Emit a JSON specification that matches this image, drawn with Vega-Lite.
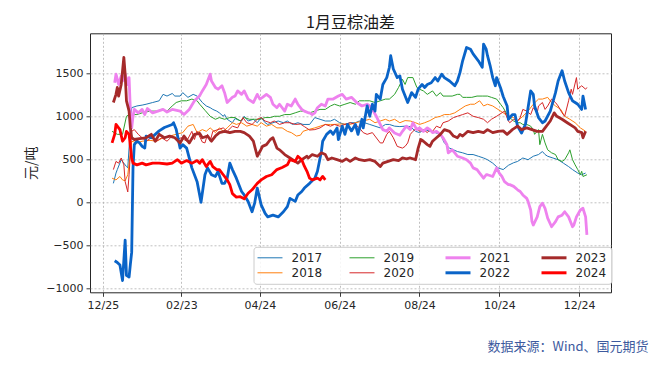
{
  "$schema": "https://vega.github.io/schema/vega-lite/v6.json",
  "width": 521,
  "height": 259,
  "autosize": {"type": "none"},
  "padding": {"left": 90, "top": 33.3, "right": 42, "bottom": 76.7},
  "background": "white",
  "config": {"view": {"stroke": "#262626", "strokeWidth": 1}},
  "title": {"text": "1月豆棕油差", "font": "Noto Sans CJK SC", "fontSize": 16, "fontWeight": "normal", "color": "#1a1a1a", "anchor": "middle", "frame": "group", "baseline": "alphabetic", "offset": 5, "dy": 16},
  "data": {
    "format": {"parse": {"t": "date:'%Y-%j'"}},
    "values": [
      {"s":"2017","t":"2023-002","v":220},{"s":"2017","t":"2023-004","v":340},{"s":"2017","t":"2023-005","v":380},{"s":"2017","t":"2023-008","v":495},{"s":"2017","t":"2023-009","v":475},{"s":"2017","t":"2023-012","v":415},{"s":"2017","t":"2023-013","v":400},{"s":"2017","t":"2023-016","v":1100},{"s":"2017","t":"2023-020","v":1120},{"s":"2017","t":"2023-024","v":1130},{"s":"2017","t":"2023-027","v":1140},{"s":"2017","t":"2023-032","v":1160},{"s":"2017","t":"2023-037","v":1180},{"s":"2017","t":"2023-040","v":1255},{"s":"2017","t":"2023-043","v":1235},{"s":"2017","t":"2023-047","v":1265},{"s":"2017","t":"2023-049","v":1235},{"s":"2017","t":"2023-053","v":1235},{"s":"2017","t":"2023-055","v":1275},{"s":"2017","t":"2023-059","v":1220},{"s":"2017","t":"2023-063","v":1255},{"s":"2017","t":"2023-066","v":1235},{"s":"2017","t":"2023-070","v":1160},{"s":"2017","t":"2023-073","v":1120},{"s":"2017","t":"2023-076","v":1100},{"s":"2017","t":"2023-078","v":1080},{"s":"2017","t":"2023-081","v":1060},{"s":"2017","t":"2023-083","v":1040},{"s":"2017","t":"2023-086","v":1000},{"s":"2017","t":"2023-087","v":1020},{"s":"2017","t":"2023-089","v":965},{"s":"2017","t":"2023-093","v":925},{"s":"2017","t":"2023-095","v":975},{"s":"2017","t":"2023-096","v":965},{"s":"2017","t":"2023-100","v":945},{"s":"2017","t":"2023-102","v":1000},{"s":"2017","t":"2023-105","v":945},{"s":"2017","t":"2023-109","v":965},{"s":"2017","t":"2023-112","v":925},{"s":"2017","t":"2023-115","v":985},{"s":"2017","t":"2023-118","v":925},{"s":"2017","t":"2023-120","v":905},{"s":"2017","t":"2023-124","v":925},{"s":"2017","t":"2023-128","v":945},{"s":"2017","t":"2023-132","v":925},{"s":"2017","t":"2023-135","v":945},{"s":"2017","t":"2023-139","v":905},{"s":"2017","t":"2023-143","v":925},{"s":"2017","t":"2023-147","v":905},{"s":"2017","t":"2023-152","v":905},{"s":"2017","t":"2023-156","v":985},{"s":"2017","t":"2023-160","v":965},{"s":"2017","t":"2023-164","v":945},{"s":"2017","t":"2023-168","v":945},{"s":"2017","t":"2023-171","v":965},{"s":"2017","t":"2023-175","v":925},{"s":"2017","t":"2023-179","v":905},{"s":"2017","t":"2023-183","v":925},{"s":"2017","t":"2023-187","v":925},{"s":"2017","t":"2023-190","v":945},{"s":"2017","t":"2023-194","v":925},{"s":"2017","t":"2023-198","v":905},{"s":"2017","t":"2023-202","v":885},{"s":"2017","t":"2023-206","v":865},{"s":"2017","t":"2023-210","v":905},{"s":"2017","t":"2023-213","v":905},{"s":"2017","t":"2023-217","v":885},{"s":"2017","t":"2023-221","v":880},{"s":"2017","t":"2023-225","v":885},{"s":"2017","t":"2023-229","v":880},{"s":"2017","t":"2023-233","v":825},{"s":"2017","t":"2023-236","v":810},{"s":"2017","t":"2023-240","v":845},{"s":"2017","t":"2023-244","v":825},{"s":"2017","t":"2023-248","v":810},{"s":"2017","t":"2023-252","v":790},{"s":"2017","t":"2023-255","v":690},{"s":"2017","t":"2023-259","v":630},{"s":"2017","t":"2023-262","v":610},{"s":"2017","t":"2023-265","v":590},{"s":"2017","t":"2023-269","v":575},{"s":"2017","t":"2023-273","v":555},{"s":"2017","t":"2023-277","v":555},{"s":"2017","t":"2023-281","v":535},{"s":"2017","t":"2023-285","v":515},{"s":"2017","t":"2023-288","v":495},{"s":"2017","t":"2023-292","v":455},{"s":"2017","t":"2023-296","v":400},{"s":"2017","t":"2023-300","v":380},{"s":"2017","t":"2023-304","v":430},{"s":"2017","t":"2023-308","v":460},{"s":"2017","t":"2023-311","v":475},{"s":"2017","t":"2023-315","v":515},{"s":"2017","t":"2023-319","v":495},{"s":"2017","t":"2023-323","v":535},{"s":"2017","t":"2023-327","v":555},{"s":"2017","t":"2023-330","v":590},{"s":"2017","t":"2023-332","v":555},{"s":"2017","t":"2023-334","v":535},{"s":"2017","t":"2023-338","v":515},{"s":"2017","t":"2023-342","v":495},{"s":"2017","t":"2023-346","v":455},{"s":"2017","t":"2023-350","v":415},{"s":"2017","t":"2023-353","v":380},{"s":"2017","t":"2023-357","v":340},{"s":"2017","t":"2023-360","v":320},{"s":"2017","t":"2023-363","v":340},

      {"s":"2018","t":"2023-001","v":280},{"s":"2018","t":"2023-004","v":260},{"s":"2018","t":"2023-007","v":300},{"s":"2018","t":"2023-009","v":260},{"s":"2018","t":"2023-011","v":250},{"s":"2018","t":"2023-013","v":320},{"s":"2018","t":"2023-016","v":710},{"s":"2018","t":"2023-020","v":690},{"s":"2018","t":"2023-024","v":710},{"s":"2018","t":"2023-030","v":720},{"s":"2018","t":"2023-035","v":710},{"s":"2018","t":"2023-040","v":750},{"s":"2018","t":"2023-045","v":770},{"s":"2018","t":"2023-050","v":790},{"s":"2018","t":"2023-055","v":810},{"s":"2018","t":"2023-059","v":885},{"s":"2018","t":"2023-063","v":905},{"s":"2018","t":"2023-066","v":810},{"s":"2018","t":"2023-070","v":845},{"s":"2018","t":"2023-073","v":825},{"s":"2018","t":"2023-076","v":865},{"s":"2018","t":"2023-080","v":810},{"s":"2018","t":"2023-083","v":865},{"s":"2018","t":"2023-086","v":825},{"s":"2018","t":"2023-089","v":865},{"s":"2018","t":"2023-093","v":925},{"s":"2018","t":"2023-096","v":905},{"s":"2018","t":"2023-100","v":925},{"s":"2018","t":"2023-104","v":885},{"s":"2018","t":"2023-108","v":905},{"s":"2018","t":"2023-112","v":885},{"s":"2018","t":"2023-115","v":925},{"s":"2018","t":"2023-119","v":885},{"s":"2018","t":"2023-123","v":905},{"s":"2018","t":"2023-127","v":865},{"s":"2018","t":"2023-131","v":865},{"s":"2018","t":"2023-135","v":825},{"s":"2018","t":"2023-138","v":810},{"s":"2018","t":"2023-142","v":770},{"s":"2018","t":"2023-145","v":780},{"s":"2018","t":"2023-147","v":825},{"s":"2018","t":"2023-151","v":845},{"s":"2018","t":"2023-156","v":865},{"s":"2018","t":"2023-160","v":885},{"s":"2018","t":"2023-164","v":905},{"s":"2018","t":"2023-168","v":905},{"s":"2018","t":"2023-171","v":905},{"s":"2018","t":"2023-175","v":910},{"s":"2018","t":"2023-179","v":910},{"s":"2018","t":"2023-183","v":905},{"s":"2018","t":"2023-187","v":925},{"s":"2018","t":"2023-190","v":935},{"s":"2018","t":"2023-194","v":950},{"s":"2018","t":"2023-198","v":965},{"s":"2018","t":"2023-202","v":925},{"s":"2018","t":"2023-206","v":945},{"s":"2018","t":"2023-210","v":965},{"s":"2018","t":"2023-213","v":945},{"s":"2018","t":"2023-217","v":965},{"s":"2018","t":"2023-221","v":925},{"s":"2018","t":"2023-225","v":950},{"s":"2018","t":"2023-229","v":945},{"s":"2018","t":"2023-233","v":925},{"s":"2018","t":"2023-236","v":905},{"s":"2018","t":"2023-240","v":925},{"s":"2018","t":"2023-244","v":950},{"s":"2018","t":"2023-248","v":985},{"s":"2018","t":"2023-252","v":1000},{"s":"2018","t":"2023-255","v":1020},{"s":"2018","t":"2023-259","v":1020},{"s":"2018","t":"2023-263","v":1040},{"s":"2018","t":"2023-267","v":1080},{"s":"2018","t":"2023-271","v":1120},{"s":"2018","t":"2023-275","v":1140},{"s":"2018","t":"2023-278","v":1140},{"s":"2018","t":"2023-282","v":1180},{"s":"2018","t":"2023-285","v":1120},{"s":"2018","t":"2023-288","v":1140},{"s":"2018","t":"2023-292","v":1120},{"s":"2018","t":"2023-296","v":1080},{"s":"2018","t":"2023-300","v":1040},{"s":"2018","t":"2023-304","v":1000},{"s":"2018","t":"2023-308","v":985},{"s":"2018","t":"2023-311","v":945},{"s":"2018","t":"2023-315","v":1000},{"s":"2018","t":"2023-319","v":1060},{"s":"2018","t":"2023-323","v":1140},{"s":"2018","t":"2023-327","v":1200},{"s":"2018","t":"2023-330","v":1200},{"s":"2018","t":"2023-334","v":1220},{"s":"2018","t":"2023-337","v":1160},{"s":"2018","t":"2023-340","v":1120},{"s":"2018","t":"2023-344","v":1080},{"s":"2018","t":"2023-347","v":1000},{"s":"2018","t":"2023-351","v":965},{"s":"2018","t":"2023-355","v":925},{"s":"2018","t":"2023-359","v":865},{"s":"2018","t":"2023-363","v":825},

      {"s":"2019","t":"2023-001","v":825},{"s":"2019","t":"2023-005","v":790},{"s":"2019","t":"2023-009","v":790},{"s":"2019","t":"2023-012","v":1000},{"s":"2019","t":"2023-014","v":1020},{"s":"2019","t":"2023-020","v":1020},{"s":"2019","t":"2023-024","v":1040},{"s":"2019","t":"2023-030","v":1060},{"s":"2019","t":"2023-035","v":1060},{"s":"2019","t":"2023-039","v":1080},{"s":"2019","t":"2023-043","v":1060},{"s":"2019","t":"2023-047","v":1120},{"s":"2019","t":"2023-050","v":1160},{"s":"2019","t":"2023-054","v":1180},{"s":"2019","t":"2023-058","v":1180},{"s":"2019","t":"2023-062","v":1200},{"s":"2019","t":"2023-066","v":1180},{"s":"2019","t":"2023-068","v":1140},{"s":"2019","t":"2023-072","v":1070},{"s":"2019","t":"2023-076","v":1000},{"s":"2019","t":"2023-080","v":965},{"s":"2019","t":"2023-083","v":985},{"s":"2019","t":"2023-087","v":965},{"s":"2019","t":"2023-091","v":985},{"s":"2019","t":"2023-095","v":985},{"s":"2019","t":"2023-099","v":945},{"s":"2019","t":"2023-102","v":985},{"s":"2019","t":"2023-106","v":965},{"s":"2019","t":"2023-110","v":965},{"s":"2019","t":"2023-114","v":965},{"s":"2019","t":"2023-118","v":985},{"s":"2019","t":"2023-122","v":985},{"s":"2019","t":"2023-125","v":1000},{"s":"2019","t":"2023-129","v":1000},{"s":"2019","t":"2023-133","v":1020},{"s":"2019","t":"2023-137","v":1020},{"s":"2019","t":"2023-141","v":1040},{"s":"2019","t":"2023-145","v":1060},{"s":"2019","t":"2023-148","v":1060},{"s":"2019","t":"2023-152","v":1040},{"s":"2019","t":"2023-156","v":1060},{"s":"2019","t":"2023-160","v":1080},{"s":"2019","t":"2023-164","v":1080},{"s":"2019","t":"2023-168","v":1120},{"s":"2019","t":"2023-171","v":1140},{"s":"2019","t":"2023-175","v":1120},{"s":"2019","t":"2023-179","v":1140},{"s":"2019","t":"2023-183","v":1160},{"s":"2019","t":"2023-187","v":1140},{"s":"2019","t":"2023-190","v":1180},{"s":"2019","t":"2023-194","v":1180},{"s":"2019","t":"2023-198","v":1180},{"s":"2019","t":"2023-202","v":1160},{"s":"2019","t":"2023-206","v":1180},{"s":"2019","t":"2023-210","v":1200},{"s":"2019","t":"2023-213","v":1200},{"s":"2019","t":"2023-217","v":1255},{"s":"2019","t":"2023-220","v":1335},{"s":"2019","t":"2023-223","v":1430},{"s":"2019","t":"2023-225","v":1370},{"s":"2019","t":"2023-227","v":1450},{"s":"2019","t":"2023-231","v":1450},{"s":"2019","t":"2023-234","v":1335},{"s":"2019","t":"2023-236","v":1315},{"s":"2019","t":"2023-239","v":1295},{"s":"2019","t":"2023-242","v":1255},{"s":"2019","t":"2023-244","v":1275},{"s":"2019","t":"2023-246","v":1295},{"s":"2019","t":"2023-249","v":1235},{"s":"2019","t":"2023-252","v":1275},{"s":"2019","t":"2023-254","v":1235},{"s":"2019","t":"2023-257","v":1235},{"s":"2019","t":"2023-261","v":1235},{"s":"2019","t":"2023-265","v":1255},{"s":"2019","t":"2023-267","v":1255},{"s":"2019","t":"2023-269","v":1220},{"s":"2019","t":"2023-272","v":1220},{"s":"2019","t":"2023-276","v":1220},{"s":"2019","t":"2023-280","v":1235},{"s":"2019","t":"2023-284","v":1235},{"s":"2019","t":"2023-288","v":1235},{"s":"2019","t":"2023-291","v":1220},{"s":"2019","t":"2023-295","v":1200},{"s":"2019","t":"2023-298","v":1140},{"s":"2019","t":"2023-300","v":1100},{"s":"2019","t":"2023-303","v":1020},{"s":"2019","t":"2023-305","v":985},{"s":"2019","t":"2023-308","v":945},{"s":"2019","t":"2023-311","v":925},{"s":"2019","t":"2023-313","v":925},{"s":"2019","t":"2023-315","v":905},{"s":"2019","t":"2023-318","v":905},{"s":"2019","t":"2023-321","v":885},{"s":"2019","t":"2023-323","v":845},{"s":"2019","t":"2023-324","v":790},{"s":"2019","t":"2023-327","v":845},{"s":"2019","t":"2023-328","v":670},{"s":"2019","t":"2023-330","v":790},{"s":"2019","t":"2023-332","v":690},{"s":"2019","t":"2023-334","v":610},{"s":"2019","t":"2023-337","v":575},{"s":"2019","t":"2023-340","v":555},{"s":"2019","t":"2023-342","v":495},{"s":"2019","t":"2023-345","v":475},{"s":"2019","t":"2023-347","v":495},{"s":"2019","t":"2023-350","v":575},{"s":"2019","t":"2023-351","v":610},{"s":"2019","t":"2023-353","v":495},{"s":"2019","t":"2023-355","v":435},{"s":"2019","t":"2023-357","v":380},{"s":"2019","t":"2023-359","v":320},{"s":"2019","t":"2023-360","v":360},{"s":"2019","t":"2023-361","v":300},{"s":"2019","t":"2023-364","v":320},

      {"s":"2020","t":"2023-002","v":380},{"s":"2020","t":"2023-004","v":475},{"s":"2020","t":"2023-006","v":455},{"s":"2020","t":"2023-008","v":515},{"s":"2020","t":"2023-010","v":435},{"s":"2020","t":"2023-011","v":240},{"s":"2020","t":"2023-013","v":120},{"s":"2020","t":"2023-014","v":320},{"s":"2020","t":"2023-016","v":825},{"s":"2020","t":"2023-018","v":845},{"s":"2020","t":"2023-021","v":790},{"s":"2020","t":"2023-024","v":750},{"s":"2020","t":"2023-027","v":710},{"s":"2020","t":"2023-031","v":750},{"s":"2020","t":"2023-035","v":710},{"s":"2020","t":"2023-039","v":750},{"s":"2020","t":"2023-043","v":710},{"s":"2020","t":"2023-047","v":770},{"s":"2020","t":"2023-050","v":730},{"s":"2020","t":"2023-054","v":750},{"s":"2020","t":"2023-058","v":710},{"s":"2020","t":"2023-062","v":825},{"s":"2020","t":"2023-064","v":730},{"s":"2020","t":"2023-066","v":825},{"s":"2020","t":"2023-070","v":700},{"s":"2020","t":"2023-072","v":690},{"s":"2020","t":"2023-074","v":790},{"s":"2020","t":"2023-076","v":710},{"s":"2020","t":"2023-078","v":825},{"s":"2020","t":"2023-082","v":845},{"s":"2020","t":"2023-086","v":865},{"s":"2020","t":"2023-089","v":825},{"s":"2020","t":"2023-093","v":885},{"s":"2020","t":"2023-097","v":865},{"s":"2020","t":"2023-101","v":985},{"s":"2020","t":"2023-104","v":925},{"s":"2020","t":"2023-108","v":905},{"s":"2020","t":"2023-112","v":965},{"s":"2020","t":"2023-115","v":985},{"s":"2020","t":"2023-118","v":945},{"s":"2020","t":"2023-122","v":925},{"s":"2020","t":"2023-125","v":945},{"s":"2020","t":"2023-129","v":905},{"s":"2020","t":"2023-133","v":925},{"s":"2020","t":"2023-137","v":925},{"s":"2020","t":"2023-141","v":905},{"s":"2020","t":"2023-145","v":910},{"s":"2020","t":"2023-148","v":880},{"s":"2020","t":"2023-152","v":840},{"s":"2020","t":"2023-156","v":845},{"s":"2020","t":"2023-160","v":865},{"s":"2020","t":"2023-164","v":905},{"s":"2020","t":"2023-168","v":885},{"s":"2020","t":"2023-171","v":905},{"s":"2020","t":"2023-175","v":885},{"s":"2020","t":"2023-179","v":905},{"s":"2020","t":"2023-183","v":925},{"s":"2020","t":"2023-187","v":905},{"s":"2020","t":"2023-190","v":865},{"s":"2020","t":"2023-193","v":810},{"s":"2020","t":"2023-196","v":790},{"s":"2020","t":"2023-200","v":810},{"s":"2020","t":"2023-202","v":770},{"s":"2020","t":"2023-206","v":690},{"s":"2020","t":"2023-208","v":690},{"s":"2020","t":"2023-211","v":790},{"s":"2020","t":"2023-213","v":825},{"s":"2020","t":"2023-216","v":750},{"s":"2020","t":"2023-219","v":650},{"s":"2020","t":"2023-221","v":640},{"s":"2020","t":"2023-223","v":630},{"s":"2020","t":"2023-225","v":650},{"s":"2020","t":"2023-227","v":690},{"s":"2020","t":"2023-229","v":790},{"s":"2020","t":"2023-231","v":825},{"s":"2020","t":"2023-234","v":865},{"s":"2020","t":"2023-236","v":825},{"s":"2020","t":"2023-239","v":845},{"s":"2020","t":"2023-242","v":810},{"s":"2020","t":"2023-244","v":845},{"s":"2020","t":"2023-246","v":825},{"s":"2020","t":"2023-249","v":885},{"s":"2020","t":"2023-252","v":865},{"s":"2020","t":"2023-254","v":925},{"s":"2020","t":"2023-258","v":945},{"s":"2020","t":"2023-262","v":985},{"s":"2020","t":"2023-265","v":1000},{"s":"2020","t":"2023-269","v":1020},{"s":"2020","t":"2023-273","v":1040},{"s":"2020","t":"2023-277","v":1000},{"s":"2020","t":"2023-281","v":985},{"s":"2020","t":"2023-285","v":965},{"s":"2020","t":"2023-288","v":925},{"s":"2020","t":"2023-291","v":965},{"s":"2020","t":"2023-295","v":1000},{"s":"2020","t":"2023-299","v":1040},{"s":"2020","t":"2023-301","v":1060},{"s":"2020","t":"2023-304","v":945},{"s":"2020","t":"2023-305","v":925},{"s":"2020","t":"2023-308","v":965},{"s":"2020","t":"2023-311","v":945},{"s":"2020","t":"2023-313","v":985},{"s":"2020","t":"2023-315","v":1080},{"s":"2020","t":"2023-318","v":1060},{"s":"2020","t":"2023-321","v":1020},{"s":"2020","t":"2023-323","v":1100},{"s":"2020","t":"2023-326","v":1040},{"s":"2020","t":"2023-327","v":1120},{"s":"2020","t":"2023-330","v":1160},{"s":"2020","t":"2023-332","v":1080},{"s":"2020","t":"2023-334","v":1120},{"s":"2020","t":"2023-337","v":1200},{"s":"2020","t":"2023-340","v":1160},{"s":"2020","t":"2023-342","v":1120},{"s":"2020","t":"2023-345","v":1040},{"s":"2020","t":"2023-347","v":1000},{"s":"2020","t":"2023-350","v":1180},{"s":"2020","t":"2023-352","v":1315},{"s":"2020","t":"2023-353","v":1255},{"s":"2020","t":"2023-356","v":1450},{"s":"2020","t":"2023-357","v":1315},{"s":"2020","t":"2023-360","v":1355},{"s":"2020","t":"2023-363","v":1315},{"s":"2020","t":"2023-364","v":1335},

      {"s":"2021","t":"2023-003","v":1390},{"s":"2021","t":"2023-004","v":1490},{"s":"2021","t":"2023-006","v":1370},{"s":"2021","t":"2023-008","v":1470},{"s":"2021","t":"2023-009","v":1410},{"s":"2021","t":"2023-011","v":1490},{"s":"2021","t":"2023-013","v":1370},{"s":"2021","t":"2023-014","v":1450},{"s":"2021","t":"2023-015","v":1060},{"s":"2021","t":"2023-016","v":865},{"s":"2021","t":"2023-017","v":1000},{"s":"2021","t":"2023-018","v":1080},{"s":"2021","t":"2023-021","v":1040},{"s":"2021","t":"2023-024","v":1080},{"s":"2021","t":"2023-026","v":1020},{"s":"2021","t":"2023-028","v":1090},{"s":"2021","t":"2023-032","v":1040},{"s":"2021","t":"2023-036","v":1060},{"s":"2021","t":"2023-040","v":1080},{"s":"2021","t":"2023-043","v":1050},{"s":"2021","t":"2023-047","v":1080},{"s":"2021","t":"2023-053","v":1060},{"s":"2021","t":"2023-056","v":1020},{"s":"2021","t":"2023-060","v":1080},{"s":"2021","t":"2023-064","v":1180},{"s":"2021","t":"2023-068","v":1240},{"s":"2021","t":"2023-070","v":1295},{"s":"2021","t":"2023-073","v":1370},{"s":"2021","t":"2023-076","v":1490},{"s":"2021","t":"2023-077","v":1410},{"s":"2021","t":"2023-080","v":1335},{"s":"2021","t":"2023-082","v":1315},{"s":"2021","t":"2023-085","v":1355},{"s":"2021","t":"2023-087","v":1275},{"s":"2021","t":"2023-089","v":1160},{"s":"2021","t":"2023-093","v":1220},{"s":"2021","t":"2023-095","v":1235},{"s":"2021","t":"2023-097","v":1295},{"s":"2021","t":"2023-100","v":1255},{"s":"2021","t":"2023-102","v":1295},{"s":"2021","t":"2023-105","v":1200},{"s":"2021","t":"2023-109","v":1160},{"s":"2021","t":"2023-112","v":1255},{"s":"2021","t":"2023-114","v":1200},{"s":"2021","t":"2023-116","v":1220},{"s":"2021","t":"2023-119","v":1255},{"s":"2021","t":"2023-122","v":1220},{"s":"2021","t":"2023-124","v":1140},{"s":"2021","t":"2023-127","v":1100},{"s":"2021","t":"2023-129","v":1140},{"s":"2021","t":"2023-133","v":1060},{"s":"2021","t":"2023-135","v":1140},{"s":"2021","t":"2023-138","v":1120},{"s":"2021","t":"2023-141","v":1200},{"s":"2021","t":"2023-143","v":1140},{"s":"2021","t":"2023-146","v":1080},{"s":"2021","t":"2023-148","v":1060},{"s":"2021","t":"2023-151","v":1040},{"s":"2021","t":"2023-152","v":1040},{"s":"2021","t":"2023-154","v":1020},{"s":"2021","t":"2023-156","v":1040},{"s":"2021","t":"2023-158","v":1100},{"s":"2021","t":"2023-161","v":1140},{"s":"2021","t":"2023-164","v":1120},{"s":"2021","t":"2023-166","v":1200},{"s":"2021","t":"2023-170","v":1200},{"s":"2021","t":"2023-174","v":1235},{"s":"2021","t":"2023-177","v":1255},{"s":"2021","t":"2023-180","v":1200},{"s":"2021","t":"2023-184","v":1220},{"s":"2021","t":"2023-188","v":1160},{"s":"2021","t":"2023-192","v":1120},{"s":"2021","t":"2023-196","v":1140},{"s":"2021","t":"2023-198","v":1120},{"s":"2021","t":"2023-200","v":1080},{"s":"2021","t":"2023-203","v":1000},{"s":"2021","t":"2023-206","v":905},{"s":"2021","t":"2023-208","v":845},{"s":"2021","t":"2023-211","v":825},{"s":"2021","t":"2023-213","v":865},{"s":"2021","t":"2023-217","v":805},{"s":"2021","t":"2023-221","v":780},{"s":"2021","t":"2023-223","v":825},{"s":"2021","t":"2023-226","v":885},{"s":"2021","t":"2023-229","v":845},{"s":"2021","t":"2023-231","v":925},{"s":"2021","t":"2023-234","v":845},{"s":"2021","t":"2023-236","v":865},{"s":"2021","t":"2023-239","v":825},{"s":"2021","t":"2023-242","v":865},{"s":"2021","t":"2023-244","v":845},{"s":"2021","t":"2023-246","v":810},{"s":"2021","t":"2023-249","v":825},{"s":"2021","t":"2023-252","v":790},{"s":"2021","t":"2023-254","v":750},{"s":"2021","t":"2023-257","v":670},{"s":"2021","t":"2023-258","v":575},{"s":"2021","t":"2023-261","v":610},{"s":"2021","t":"2023-263","v":575},{"s":"2021","t":"2023-265","v":535},{"s":"2021","t":"2023-269","v":515},{"s":"2021","t":"2023-272","v":495},{"s":"2021","t":"2023-275","v":455},{"s":"2021","t":"2023-277","v":400},{"s":"2021","t":"2023-280","v":380},{"s":"2021","t":"2023-282","v":340},{"s":"2021","t":"2023-285","v":280},{"s":"2021","t":"2023-287","v":320},{"s":"2021","t":"2023-288","v":320},{"s":"2021","t":"2023-292","v":300},{"s":"2021","t":"2023-295","v":400},{"s":"2021","t":"2023-297","v":340},{"s":"2021","t":"2023-299","v":300},{"s":"2021","t":"2023-301","v":240},{"s":"2021","t":"2023-304","v":205},{"s":"2021","t":"2023-305","v":205},{"s":"2021","t":"2023-308","v":185},{"s":"2021","t":"2023-311","v":145},{"s":"2021","t":"2023-313","v":125},{"s":"2021","t":"2023-315","v":85},{"s":"2021","t":"2023-318","v":45},{"s":"2021","t":"2023-319","v":10},{"s":"2021","t":"2023-321","v":-90},{"s":"2021","t":"2023-322","v":-225},{"s":"2021","t":"2023-323","v":-265},{"s":"2021","t":"2023-326","v":-170},{"s":"2021","t":"2023-328","v":-50},{"s":"2021","t":"2023-330","v":-10},{"s":"2021","t":"2023-332","v":-70},{"s":"2021","t":"2023-334","v":-185},{"s":"2021","t":"2023-337","v":-285},{"s":"2021","t":"2023-340","v":-225},{"s":"2021","t":"2023-342","v":-170},{"s":"2021","t":"2023-345","v":-150},{"s":"2021","t":"2023-347","v":-110},{"s":"2021","t":"2023-350","v":-170},{"s":"2021","t":"2023-353","v":-285},{"s":"2021","t":"2023-354","v":-265},{"s":"2021","t":"2023-356","v":-170},{"s":"2021","t":"2023-359","v":-90},{"s":"2021","t":"2023-361","v":-70},{"s":"2021","t":"2023-363","v":-170},{"s":"2021","t":"2023-364","v":-380},

      {"s":"2022","t":"2023-003","v":-680},{"s":"2022","t":"2023-005","v":-700},{"s":"2022","t":"2023-007","v":-730},{"s":"2022","t":"2023-009","v":-910},{"s":"2022","t":"2023-011","v":-440},{"s":"2022","t":"2023-012","v":-850},{"s":"2022","t":"2023-014","v":-870},{"s":"2022","t":"2023-015","v":-720},{"s":"2022","t":"2023-016","v":-580},{"s":"2022","t":"2023-017","v":400},{"s":"2022","t":"2023-018","v":670},{"s":"2022","t":"2023-020","v":710},{"s":"2022","t":"2023-022","v":690},{"s":"2022","t":"2023-024","v":650},{"s":"2022","t":"2023-026","v":630},{"s":"2022","t":"2023-027","v":770},{"s":"2022","t":"2023-031","v":750},{"s":"2022","t":"2023-034","v":790},{"s":"2022","t":"2023-037","v":830},{"s":"2022","t":"2023-041","v":870},{"s":"2022","t":"2023-047","v":905},{"s":"2022","t":"2023-048","v":925},{"s":"2022","t":"2023-050","v":850},{"s":"2022","t":"2023-053","v":630},{"s":"2022","t":"2023-055","v":670},{"s":"2022","t":"2023-058","v":630},{"s":"2022","t":"2023-062","v":400},{"s":"2022","t":"2023-066","v":240},{"s":"2022","t":"2023-069","v":0},{"s":"2022","t":"2023-072","v":320},{"s":"2022","t":"2023-074","v":400},{"s":"2022","t":"2023-077","v":320},{"s":"2022","t":"2023-080","v":300},{"s":"2022","t":"2023-082","v":360},{"s":"2022","t":"2023-085","v":220},{"s":"2022","t":"2023-087","v":220},{"s":"2022","t":"2023-089","v":280},{"s":"2022","t":"2023-091","v":455},{"s":"2022","t":"2023-093","v":380},{"s":"2022","t":"2023-096","v":280},{"s":"2022","t":"2023-100","v":125},{"s":"2022","t":"2023-102","v":85},{"s":"2022","t":"2023-105","v":10},{"s":"2022","t":"2023-108","v":-110},{"s":"2022","t":"2023-110","v":-10},{"s":"2022","t":"2023-112","v":165},{"s":"2022","t":"2023-115","v":-30},{"s":"2022","t":"2023-118","v":-130},{"s":"2022","t":"2023-120","v":-170},{"s":"2022","t":"2023-124","v":-150},{"s":"2022","t":"2023-128","v":-170},{"s":"2022","t":"2023-132","v":-110},{"s":"2022","t":"2023-135","v":-50},{"s":"2022","t":"2023-137","v":45},{"s":"2022","t":"2023-141","v":10},{"s":"2022","t":"2023-143","v":85},{"s":"2022","t":"2023-146","v":125},{"s":"2022","t":"2023-148","v":165},{"s":"2022","t":"2023-152","v":220},{"s":"2022","t":"2023-156","v":280},{"s":"2022","t":"2023-158","v":360},{"s":"2022","t":"2023-161","v":590},{"s":"2022","t":"2023-162","v":710},{"s":"2022","t":"2023-165","v":790},{"s":"2022","t":"2023-168","v":830},{"s":"2022","t":"2023-170","v":790},{"s":"2022","t":"2023-173","v":865},{"s":"2022","t":"2023-174","v":730},{"s":"2022","t":"2023-177","v":885},{"s":"2022","t":"2023-179","v":790},{"s":"2022","t":"2023-181","v":905},{"s":"2022","t":"2023-184","v":830},{"s":"2022","t":"2023-187","v":905},{"s":"2022","t":"2023-189","v":790},{"s":"2022","t":"2023-192","v":965},{"s":"2022","t":"2023-193","v":865},{"s":"2022","t":"2023-196","v":1120},{"s":"2022","t":"2023-198","v":1000},{"s":"2022","t":"2023-200","v":1140},{"s":"2022","t":"2023-202","v":1060},{"s":"2022","t":"2023-203","v":1255},{"s":"2022","t":"2023-206","v":1200},{"s":"2022","t":"2023-208","v":1370},{"s":"2022","t":"2023-211","v":1450},{"s":"2022","t":"2023-213","v":1570},{"s":"2022","t":"2023-214","v":1705},{"s":"2022","t":"2023-216","v":1550},{"s":"2022","t":"2023-219","v":1450},{"s":"2022","t":"2023-221","v":1470},{"s":"2022","t":"2023-223","v":1315},{"s":"2022","t":"2023-227","v":1160},{"s":"2022","t":"2023-230","v":1275},{"s":"2022","t":"2023-233","v":1220},{"s":"2022","t":"2023-235","v":1315},{"s":"2022","t":"2023-238","v":1370},{"s":"2022","t":"2023-240","v":1335},{"s":"2022","t":"2023-242","v":1370},{"s":"2022","t":"2023-245","v":1390},{"s":"2022","t":"2023-248","v":1450},{"s":"2022","t":"2023-250","v":1410},{"s":"2022","t":"2023-253","v":1490},{"s":"2022","t":"2023-255","v":1450},{"s":"2022","t":"2023-259","v":1410},{"s":"2022","t":"2023-263","v":1355},{"s":"2022","t":"2023-265","v":1410},{"s":"2022","t":"2023-267","v":1510},{"s":"2022","t":"2023-269","v":1645},{"s":"2022","t":"2023-272","v":1800},{"s":"2022","t":"2023-275","v":1780},{"s":"2022","t":"2023-277","v":1725},{"s":"2022","t":"2023-281","v":1645},{"s":"2022","t":"2023-284","v":1570},{"s":"2022","t":"2023-285","v":1840},{"s":"2022","t":"2023-287","v":1780},{"s":"2022","t":"2023-288","v":1705},{"s":"2022","t":"2023-290","v":1590},{"s":"2022","t":"2023-292","v":1450},{"s":"2022","t":"2023-294","v":1355},{"s":"2022","t":"2023-295","v":1450},{"s":"2022","t":"2023-298","v":1330},{"s":"2022","t":"2023-300","v":1230},{"s":"2022","t":"2023-303","v":1120},{"s":"2022","t":"2023-304","v":965},{"s":"2022","t":"2023-307","v":1020},{"s":"2022","t":"2023-309","v":1020},{"s":"2022","t":"2023-311","v":885},{"s":"2022","t":"2023-314","v":805},{"s":"2022","t":"2023-317","v":905},{"s":"2022","t":"2023-319","v":1100},{"s":"2022","t":"2023-321","v":1295},{"s":"2022","t":"2023-323","v":1255},{"s":"2022","t":"2023-324","v":1120},{"s":"2022","t":"2023-327","v":985},{"s":"2022","t":"2023-330","v":925},{"s":"2022","t":"2023-332","v":945},{"s":"2022","t":"2023-336","v":1060},{"s":"2022","t":"2023-340","v":1275},{"s":"2022","t":"2023-342","v":1410},{"s":"2022","t":"2023-345","v":1530},{"s":"2022","t":"2023-347","v":1410},{"s":"2022","t":"2023-350","v":1275},{"s":"2022","t":"2023-353","v":1180},{"s":"2022","t":"2023-355","v":1160},{"s":"2022","t":"2023-357","v":1140},{"s":"2022","t":"2023-360","v":1080},{"s":"2022","t":"2023-361","v":1235},{"s":"2022","t":"2023-363","v":1080},

      {"s":"2023","t":"2023-002","v":1160},{"s":"2023","t":"2023-004","v":1255},{"s":"2023","t":"2023-005","v":1335},{"s":"2023","t":"2023-006","v":1235},{"s":"2023","t":"2023-008","v":1370},{"s":"2023","t":"2023-010","v":1685},{"s":"2023","t":"2023-011","v":1490},{"s":"2023","t":"2023-012","v":1180},{"s":"2023","t":"2023-014","v":1060},{"s":"2023","t":"2023-015","v":865},{"s":"2023","t":"2023-016","v":750},{"s":"2023","t":"2023-018","v":730},{"s":"2023","t":"2023-022","v":740},{"s":"2023","t":"2023-027","v":750},{"s":"2023","t":"2023-031","v":790},{"s":"2023","t":"2023-034","v":710},{"s":"2023","t":"2023-037","v":790},{"s":"2023","t":"2023-041","v":750},{"s":"2023","t":"2023-045","v":770},{"s":"2023","t":"2023-049","v":750},{"s":"2023","t":"2023-053","v":690},{"s":"2023","t":"2023-056","v":770},{"s":"2023","t":"2023-060","v":690},{"s":"2023","t":"2023-064","v":790},{"s":"2023","t":"2023-068","v":800},{"s":"2023","t":"2023-070","v":750},{"s":"2023","t":"2023-074","v":770},{"s":"2023","t":"2023-077","v":710},{"s":"2023","t":"2023-080","v":770},{"s":"2023","t":"2023-083","v":810},{"s":"2023","t":"2023-087","v":825},{"s":"2023","t":"2023-091","v":810},{"s":"2023","t":"2023-095","v":825},{"s":"2023","t":"2023-099","v":825},{"s":"2023","t":"2023-102","v":810},{"s":"2023","t":"2023-106","v":770},{"s":"2023","t":"2023-109","v":710},{"s":"2023","t":"2023-112","v":535},{"s":"2023","t":"2023-114","v":590},{"s":"2023","t":"2023-116","v":650},{"s":"2023","t":"2023-119","v":670},{"s":"2023","t":"2023-122","v":730},{"s":"2023","t":"2023-124","v":750},{"s":"2023","t":"2023-127","v":630},{"s":"2023","t":"2023-129","v":610},{"s":"2023","t":"2023-133","v":555},{"s":"2023","t":"2023-137","v":515},{"s":"2023","t":"2023-141","v":475},{"s":"2023","t":"2023-143","v":455},{"s":"2023","t":"2023-146","v":495},{"s":"2023","t":"2023-150","v":535},{"s":"2023","t":"2023-151","v":515},{"s":"2023","t":"2023-154","v":555},{"s":"2023","t":"2023-158","v":535},{"s":"2023","t":"2023-161","v":575},{"s":"2023","t":"2023-164","v":555},{"s":"2023","t":"2023-166","v":495},{"s":"2023","t":"2023-169","v":515},{"s":"2023","t":"2023-173","v":495},{"s":"2023","t":"2023-177","v":475},{"s":"2023","t":"2023-180","v":505},{"s":"2023","t":"2023-183","v":475},{"s":"2023","t":"2023-187","v":515},{"s":"2023","t":"2023-190","v":495},{"s":"2023","t":"2023-194","v":485},{"s":"2023","t":"2023-198","v":495},{"s":"2023","t":"2023-202","v":475},{"s":"2023","t":"2023-206","v":415},{"s":"2023","t":"2023-208","v":455},{"s":"2023","t":"2023-212","v":475},{"s":"2023","t":"2023-216","v":495},{"s":"2023","t":"2023-220","v":485},{"s":"2023","t":"2023-223","v":515},{"s":"2023","t":"2023-226","v":505},{"s":"2023","t":"2023-229","v":515},{"s":"2023","t":"2023-233","v":495},{"s":"2023","t":"2023-235","v":630},{"s":"2023","t":"2023-237","v":730},{"s":"2023","t":"2023-239","v":710},{"s":"2023","t":"2023-242","v":670},{"s":"2023","t":"2023-244","v":650},{"s":"2023","t":"2023-246","v":710},{"s":"2023","t":"2023-249","v":750},{"s":"2023","t":"2023-252","v":790},{"s":"2023","t":"2023-255","v":845},{"s":"2023","t":"2023-259","v":825},{"s":"2023","t":"2023-262","v":770},{"s":"2023","t":"2023-265","v":750},{"s":"2023","t":"2023-267","v":790},{"s":"2023","t":"2023-269","v":770},{"s":"2023","t":"2023-273","v":825},{"s":"2023","t":"2023-277","v":810},{"s":"2023","t":"2023-281","v":825},{"s":"2023","t":"2023-285","v":810},{"s":"2023","t":"2023-288","v":845},{"s":"2023","t":"2023-292","v":810},{"s":"2023","t":"2023-296","v":825},{"s":"2023","t":"2023-300","v":830},{"s":"2023","t":"2023-303","v":790},{"s":"2023","t":"2023-307","v":845},{"s":"2023","t":"2023-311","v":885},{"s":"2023","t":"2023-314","v":845},{"s":"2023","t":"2023-318","v":865},{"s":"2023","t":"2023-322","v":845},{"s":"2023","t":"2023-326","v":825},{"s":"2023","t":"2023-330","v":825},{"s":"2023","t":"2023-332","v":865},{"s":"2023","t":"2023-336","v":945},{"s":"2023","t":"2023-339","v":1040},{"s":"2023","t":"2023-341","v":1000},{"s":"2023","t":"2023-345","v":965},{"s":"2023","t":"2023-349","v":925},{"s":"2023","t":"2023-353","v":885},{"s":"2023","t":"2023-355","v":865},{"s":"2023","t":"2023-357","v":825},{"s":"2023","t":"2023-360","v":810},{"s":"2023","t":"2023-361","v":750},{"s":"2023","t":"2023-363","v":825},

      {"s":"2024","t":"2023-001","v":690},{"s":"2024","t":"2023-003","v":790},{"s":"2024","t":"2023-004","v":905},{"s":"2024","t":"2023-007","v":845},{"s":"2024","t":"2023-009","v":710},{"s":"2024","t":"2023-011","v":750},{"s":"2024","t":"2023-012","v":825},{"s":"2024","t":"2023-014","v":790},{"s":"2024","t":"2023-016","v":515},{"s":"2024","t":"2023-017","v":455},{"s":"2024","t":"2023-020","v":435},{"s":"2024","t":"2023-024","v":455},{"s":"2024","t":"2023-027","v":435},{"s":"2024","t":"2023-032","v":455},{"s":"2024","t":"2023-037","v":455},{"s":"2024","t":"2023-043","v":445},{"s":"2024","t":"2023-047","v":455},{"s":"2024","t":"2023-051","v":495},{"s":"2024","t":"2023-054","v":455},{"s":"2024","t":"2023-058","v":485},{"s":"2024","t":"2023-062","v":455},{"s":"2024","t":"2023-066","v":485},{"s":"2024","t":"2023-068","v":455},{"s":"2024","t":"2023-070","v":495},{"s":"2024","t":"2023-073","v":415},{"s":"2024","t":"2023-076","v":475},{"s":"2024","t":"2023-078","v":415},{"s":"2024","t":"2023-081","v":380},{"s":"2024","t":"2023-083","v":380},{"s":"2024","t":"2023-086","v":320},{"s":"2024","t":"2023-089","v":260},{"s":"2024","t":"2023-091","v":205},{"s":"2024","t":"2023-093","v":100},{"s":"2024","t":"2023-096","v":60},{"s":"2024","t":"2023-099","v":65},{"s":"2024","t":"2023-102","v":40},{"s":"2024","t":"2023-105","v":105},{"s":"2024","t":"2023-108","v":145},{"s":"2024","t":"2023-112","v":220},{"s":"2024","t":"2023-115","v":260},{"s":"2024","t":"2023-119","v":300},{"s":"2024","t":"2023-123","v":320},{"s":"2024","t":"2023-127","v":380},{"s":"2024","t":"2023-131","v":405},{"s":"2024","t":"2023-135","v":435},{"s":"2024","t":"2023-137","v":495},{"s":"2024","t":"2023-141","v":475},{"s":"2024","t":"2023-143","v":535},{"s":"2024","t":"2023-146","v":495},{"s":"2024","t":"2023-148","v":420},{"s":"2024","t":"2023-150","v":360},{"s":"2024","t":"2023-152","v":280},{"s":"2024","t":"2023-154","v":260},{"s":"2024","t":"2023-158","v":280},{"s":"2024","t":"2023-160","v":260},{"s":"2024","t":"2023-162","v":300},{"s":"2024","t":"2023-164","v":260}
    ]
  },
  "mark": {"type": "line", "strokeJoin": "round", "strokeCap": "butt"},
  "encoding": {
    "x": {
      "field": "t", "type": "temporal",
      "scale": {"domain": [{"year": 2022, "month": 12, "date": 15, "hours": 3}, {"year": 2024, "month": 1, "date": 17, "hours": 10}]},
      "axis": {
        "values": [{"year": 2022, "month": 12, "date": 25}, {"year": 2023, "month": 2, "date": 23}, {"year": 2023, "month": 4, "date": 24}, {"year": 2023, "month": 6, "date": 24}, {"year": 2023, "month": 8, "date": 24}, {"year": 2023, "month": 10, "date": 24}, {"year": 2023, "month": 12, "date": 24}],
        "format": "%m/%d",
        "labelFont": "DejaVu Sans", "labelFontSize": 11, "labelColor": "#262626",
        "labelFlush": false, "labelOverlap": false, "labelPadding": 3,
        "tickColor": "#262626", "tickSize": 4, "tickWidth": 0.9,
        "domain": false,
        "grid": true, "gridColor": "#b0b0b0", "gridDash": [2, 2], "gridWidth": 0.8,
        "title": "数据来源：Wind、国元期货",
        "titleFont": "Noto Sans CJK SC", "titleFontSize": 13, "titleFontWeight": "normal", "titleColor": "#3d5a9e",
        "titleX": 558, "titleY": 54.5, "titleAlign": "right", "titleBaseline": "middle"
      }
    },
    "y": {
      "field": "v", "type": "quantitative",
      "scale": {"domain": [-1047, 1965], "nice": false, "zero": false},
      "axis": {
        "values": [-1000, -500, 0, 500, 1000, 1500],
        "format": "d",
        "labelFont": "DejaVu Sans", "labelFontSize": 11, "labelColor": "#262626", "labelPadding": 3,
        "tickColor": "#262626", "tickSize": 4, "tickWidth": 0.9,
        "domain": false,
        "grid": true, "gridColor": "#b0b0b0", "gridDash": [2, 2], "gridWidth": 0.8,
        "title": "元/吨",
        "titleFont": "Noto Sans CJK SC", "titleFontSize": 14, "titleFontWeight": "normal", "titleColor": "#262626",
        "titleX": -58.5, "titleY": 129.5, "titleAngle": -90, "titleAlign": "center", "titleBaseline": "middle"
      }
    },
    "color": {
      "field": "s", "type": "nominal",
      "scale": {"domain": ["2017", "2019", "2021", "2023", "2018", "2020", "2022", "2024"], "range": ["#1f77b4", "#2ca02c", "#ee82ee", "#a52a2a", "#ff7f0e", "#d62728", "#0a64c8", "#ff0000"]},
      "legend": {
        "orient": "none", "legendX": 163.5, "legendY": 213.5,
        "direction": "horizontal", "columns": 4, "title": null,
        "symbolType": "M-1,0H2.57", "symbolSize": 196,
        "labelFont": "DejaVu Sans", "labelFontSize": 12, "labelColor": "#262626", "labelOffset": 21,
        "columnPadding": 25, "rowPadding": 3, "padding": 5,
        "strokeColor": "#cccccc", "fillColor": "rgba(255,255,255,0.85)", "cornerRadius": 3,
        "encode": {"symbols": {"update": {"strokeWidth": {"signal": "datum.value >= '2021' ? 3 : 1"}, "fill": {"value": "transparent"}}}}
      }
    },
    "strokeWidth": {"condition": {"test": "datum.s >= '2021'", "value": 2.8}, "value": 1}
  }
}
